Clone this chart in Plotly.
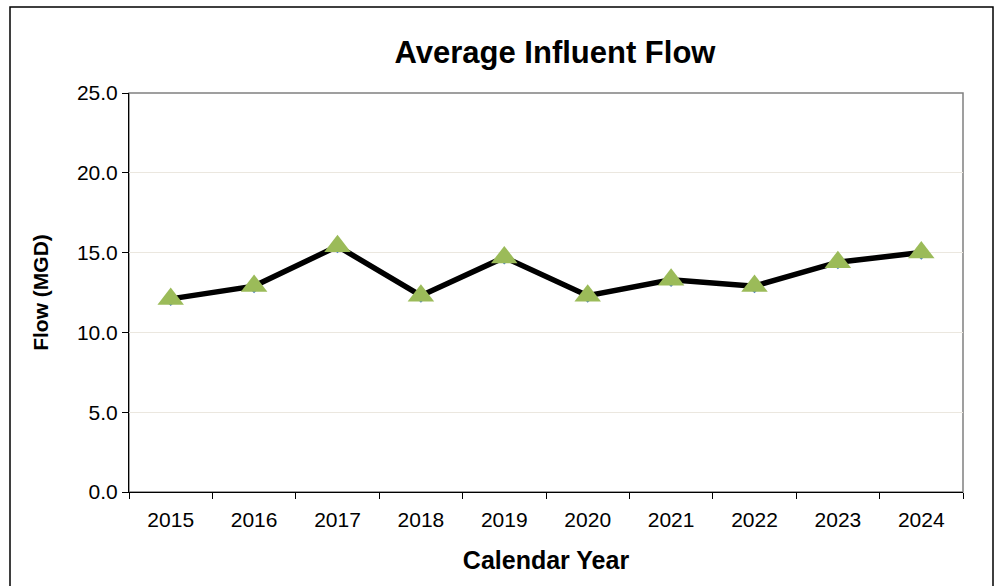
import plotly.graph_objects as go

# values
years = ['2015', '2016', '2017', '2018', '2019', '2020', '2021', '2022', '2023', '2024']
avg_flow = [12.1, 12.9, 15.4, 12.3, 14.7, 12.3, 13.3, 12.9, 14.4, 15.0]
y_ticks = [0, 5, 10, 15, 20, 25]

FONT = 'Liberation Sans, Arial, sans-serif'

fig = go.Figure()
# blue diamond series sitting under the line (excel style)
fig.add_trace(go.Scatter(
    x=years, y=avg_flow,
    mode='lines+markers',
    line=dict(color='black', width=5.5),
    marker=dict(symbol='diamond', size=11, color='#4f81bd'),
    showlegend=False,
    hoverinfo='skip',
))
# green triangles on top
fig.add_trace(go.Scatter(
    x=years, y=avg_flow,
    mode='markers',
    marker=dict(symbol='triangle-up', size=23, color='#9bbb59'),
    showlegend=False,
))

fig.update_layout(
    width=994,
    height=586,
    margin=dict(l=129, r=31, t=93, b=94),
    paper_bgcolor='white',
    plot_bgcolor='white',
    font=dict(family=FONT, color='black'),
    title=dict(
        text='<b>Average Influent Flow</b>',
        x=(555 - 129) / 834, xref='paper', xanchor='center',
        y=1 - 52 / 586, yanchor='middle',
        font=dict(size=31, family=FONT),
    ),
    xaxis=dict(
        type='category',
        range=[-0.5, len(years) - 0.5],
        tickson='boundaries',
        ticks='outside',
        ticklen=6,
        tickcolor='black',
        showline=True,
        linecolor='black',
        linewidth=1,
        showgrid=False,
        tickfont=dict(size=21),
        ticklabelstandoff=9,
        title=dict(text='<b>Calendar Year</b>', font=dict(size=25), standoff=21),
    ),
    yaxis=dict(
        range=[0, 25],
        tickvals=y_ticks,
        tickformat='.1f',
        ticks='outside',
        ticklen=6,
        tickcolor='black',
        showline=True,
        linecolor='black',
        linewidth=1,
        showgrid=True,
        gridcolor='#ebe7df',
        gridwidth=1,
        zeroline=False,
        tickfont=dict(size=21),
        title=dict(text='<b>Flow (MGD)</b>', font=dict(size=21), standoff=22),
    ),
    shapes=[
        # plot area border (top / right in grey)
        dict(type='rect', xref='paper', yref='paper', x0=0, x1=1, y0=0, y1=1,
             line=dict(color='#808080', width=1.5), layer='below'),
        # outer chart frame
        dict(type='rect', xref='paper', yref='paper',
             x0=(10 - 129) / 834, x1=(993 - 129) / 834,
             y0=-0.3, y1=(492 - 7) / 399,
             line=dict(color='black', width=1.5), layer='below'),
    ],
)

fig.write_html('out.html', config={'displayModeBar': False},
               post_script="document.body.style.margin='0';")
